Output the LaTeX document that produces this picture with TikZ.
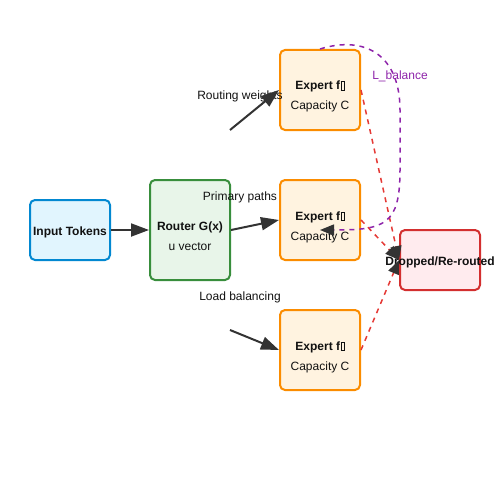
\documentclass[tikz,border=0pt]{standalone}
\usepackage{fontspec}
\setmainfont{Liberation Sans}
\usetikzlibrary{arrows.meta}
\definecolor{txt}{HTML}{111111}
\definecolor{arr}{HTML}{333333}
\definecolor{inFill}{HTML}{E1F5FE}\definecolor{inLine}{HTML}{0288D1}
\definecolor{rtFill}{HTML}{E8F5E9}\definecolor{rtLine}{HTML}{388E3C}
\definecolor{exFill}{HTML}{FFF3E0}\definecolor{exLine}{HTML}{FB8C00}
\definecolor{drFill}{HTML}{FFEBEE}\definecolor{drLine}{HTML}{D32F2F}
\definecolor{redDash}{HTML}{E53935}
\definecolor{purp}{HTML}{8E24AA}
\newcommand\tofubox{\kern0.4pt{\setlength\fboxsep{0pt}\setlength\fboxrule{0.5pt}\fbox{\rule{0pt}{8pt}\hspace{3pt}}}}
\begin{document}
\begin{tikzpicture}[x=1pt,y=-1pt,
  box/.style={draw,line width=2pt,rounded corners=5pt,minimum width=80pt,inner sep=0pt},
  ttl/.style={anchor=base,inner sep=0pt,font=\fontsize{12}{14}\selectfont\bfseries,text=txt},
  sub/.style={anchor=base,inner sep=0pt,font=\fontsize{12}{14}\selectfont,text=txt},
  solidarrow/.style={draw=arr,line width=2pt,-{Triangle[length=18pt,width=13pt]}},
  reddash/.style={draw=redDash,line width=1.5pt,dash pattern=on 5pt off 5pt,-{Triangle[length=14pt,width=11pt,fill=arr,color=arr]}},
  purpdash/.style={draw=purp,line width=1.5pt,dash pattern=on 5pt off 5pt,-{Triangle[length=14pt,width=11pt,fill=arr,color=arr]}}]
\useasboundingbox (0,0) rectangle (500,500);
% boxes
\node[box,fill=inFill,draw=inLine,minimum height=60pt] (in) at (70,230) {};
\node[box,fill=rtFill,draw=rtLine,minimum height=100pt] (rt) at (190,230) {};
\node[box,fill=exFill,draw=exLine,minimum height=80pt] (e1) at (320,90) {};
\node[box,fill=exFill,draw=exLine,minimum height=80pt] (e2) at (320,220) {};
\node[box,fill=exFill,draw=exLine,minimum height=80pt] (e3) at (320,350) {};
\node[box,fill=drFill,draw=drLine,minimum height=60pt] (dr) at (440,260) {};
% texts
\node[ttl] (inT) at (70,235) {Input Tokens};
\node[ttl] (rtT) at (190,230) {Router G(x)};
\node[sub] (rtS) at (190,250) {u vector};
\node[ttl] (e1T) at (320,90) {Expert f\tofubox};
\node[sub] (e1S) at (320,110) {Capacity C};
\node[ttl] (e2T) at (320,220) {Expert f\tofubox};
\node[sub] (e2S) at (320,240) {Capacity C};
\node[ttl] (e3T) at (320,350) {Expert f\tofubox};
\node[sub] (e3S) at (320,370) {Capacity C};
\node[ttl] (drT) at (440,265) {Dropped/Re-routed};
\node[sub] (lw) at (240,100) {Routing weights};
\node[sub] (lp) at (240,200) {Primary paths};
\node[sub] (ll) at (240,300) {Load balancing};
\node[sub,text=purp] (lb) at (400,80) {L\_balance};
% free ends
\coordinate (s1) at (230,130);
\coordinate (s3) at (230,330);
\coordinate (pb) at (320,230);
% connectors
\draw[solidarrow] (in.east) -- (rt.west);
\draw[solidarrow] (s1) -- (e1.west);
\draw[solidarrow] (rt.east) -- (e2.west);
\draw[solidarrow] (s3) -- (e3.west);
\draw[reddash] (e1.east) -- (dr.west);
\draw[reddash] (e2.east) -- (dr.west);
\draw[reddash] (e3.east) -- (dr.west);
\draw[purpdash] (e1.north) .. controls (365,35) and (400,55) .. (400,110) -- (400,170) .. controls (400,225) and (385,230) .. (pb);
\end{tikzpicture}
\end{document}
